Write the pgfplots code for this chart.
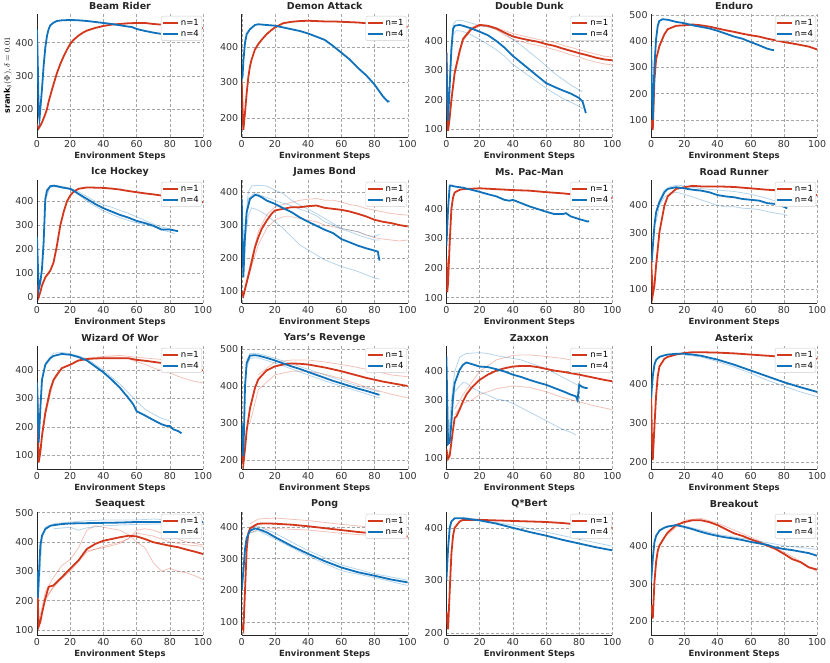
\documentclass[border=0pt]{standalone}
\usepackage{fontspec}
\setmainfont{DejaVu Sans}
\usepackage{pgfplots}
\pgfplotsset{compat=1.18}
\definecolor{cred}{RGB}{211,55,28}
\definecolor{cblue}{RGB}{16,114,186}
\pgfplotsset{
  panel/.style={
    scale only axis, width=166pt, height=123pt, anchor=south west,
    xmin=0, xmax=100, xtick={0,20,40,60,80,100}, ytick distance=100,
    axis x line*=bottom, axis y line*=left,
    axis line style={-, black!85, line width=0.8pt},
    major tick length=0pt,
    grid=major, grid style={densely dashed, black!35, line width=0.4pt},
    tick label style={font=\fontsize{9.5}{10}\selectfont, text=black!80},
    /pgf/number format/assume math mode=true,
    xlabel={Environment Steps},
    xlabel style={font=\bfseries\fontsize{8.5}{9}\selectfont, text=black!85,
      at={(axis description cs:0.5,0)}, anchor=center, yshift=-19pt},
    title style={font=\bfseries\fontsize{9.5}{10}\selectfont, text=black!85,
      at={(axis description cs:0.5,1)}, anchor=center, yshift=2pt},
    legend style={at={(1,1)}, anchor=north east, xshift=-1pt, yshift=-2pt,
      draw=black!20, rounded corners=2pt, fill=white,
      font=\fontsize{8.5}{9}\selectfont, inner sep=1pt, row sep=-1pt},
    legend image code/.code={\draw[##1] (0pt,0pt) -- (15pt,0pt);},
    legend cell align=left,
  },
  mean1/.style={cred, line width=1.8pt},
  mean4/.style={cblue, line width=1.8pt},
  seed1/.style={cred, line width=0.8pt, opacity=0.3, forget plot},
  seed4/.style={cblue, line width=0.8pt, opacity=0.3, forget plot},
}
\begin{document}
\begin{tikzpicture}
\useasboundingbox (0,0) rectangle (830pt,663pt);

% ---------------- row 1 ----------------
\begin{axis}[panel, at={(37pt,526pt)}, title={Beam Rider}, ymin=116, ymax=486,
  ylabel={\textbf{srank}$_\delta(\Phi), \delta=0.01$},
  ylabel style={font=\fontsize{8}{9}\selectfont, at={(axis description cs:-0.175,0.5)}, anchor=center}]
\addplot[mean1] coordinates {(0,155)(1,142)(2,150)(3,160)(4,172)(5,185)(6,200)(7,222)(8,240)(9,258)(10,275)(12,308)(14,335)(16,358)(18,378)(20,396)(22,408)(25,421)(28,431)(30,436)(35,444)(40,450)(45,454)(50,456)(55,458)(60,459)(65,459)(70,456)(75,454)(80,451)(85,449)(90,447)(95,446)(100,443)};
\addlegendentry{n=1}
\addplot[mean4] coordinates {(0,440)(0.5,330)(1,190)(1.5,170)(2,200)(3,260)(4,330)(5,385)(6,420)(7,440)(8,452)(10,460)(12,465)(15,467)(20,468)(25,467)(30,465)(35,462)(40,459)(45,456)(50,452)(55,448)(57,447)(60,441)(65,435)(70,430)(75,426)(80,422)(83,419)};
\addlegendentry{n=4}
\end{axis}

\begin{axis}[panel, at={(241.7pt,526pt)}, title={Demon Attack}, ymin=146, ymax=493]
\addplot[mean1] coordinates {(0,300)(0.5,230)(1,166)(2,215)(3,270)(4,315)(5,346)(6,365)(8,393)(10,408)(12,420)(15,436)(18,448)(20,455)(25,467)(30,471)(35,473)(40,474)(45,473)(50,472)(55,472)(60,471)(65,470)(70,469)(75,467)(80,465)(85,463)(90,461)(95,459)(100,457)};
\addlegendentry{n=1}
\addplot[mean4] coordinates {(0,310)(0.5,315)(1,360)(2,412)(3,436)(5,450)(8,462)(10,464)(15,462)(20,460)(25,455)(30,450)(35,445)(40,438)(45,429)(50,420)(55,403)(60,384)(65,365)(70,341)(75,320)(80,294)(85,261)(88,246)(89,247)};
\addlegendentry{n=4}
\end{axis}

\begin{axis}[panel, at={(446.4pt,526pt)}, title={Double Dunk}, ymin=74, ymax=491]
\addplot[seed1] coordinates {(1,95)(5,300)(10,410)(15,445)(20,455)(25,452)(30,445)(35,435)(40,425)(45,418)(50,412)(55,405)(60,400)(65,395)(70,385)(75,378)(80,370)(85,362)(90,355)(95,348)(100,345)};
\addplot[seed1] coordinates {(1,95)(5,285)(10,400)(15,435)(20,450)(25,448)(30,438)(35,420)(40,405)(45,398)(50,390)(55,385)(60,378)(65,370)(70,362)(75,352)(80,345)(85,335)(90,328)(95,322)(100,318)};
\addplot[seed4] coordinates {(2,300)(4,455)(6,470)(10,468)(15,460)(20,452)(25,447)(30,440)(35,425)(40,405)(45,385)(50,362)(55,340)(60,315)(65,290)(70,270)(75,250)(80,233)(82,228)};
\addplot[seed4] coordinates {(2,280)(4,420)(6,435)(10,432)(15,420)(20,405)(25,388)(30,370)(35,348)(40,320)(45,300)(50,280)(55,260)(60,240)(65,222)(70,205)(75,192)(80,178)(82,170)};
\addplot[mean1] coordinates {(0,360)(0.5,200)(1,95)(2,140)(3,200)(5,292)(8,366)(10,406)(15,440)(20,454)(25,451)(30,442)(35,428)(40,415)(45,408)(50,402)(55,397)(60,389)(65,383)(70,374)(75,366)(80,358)(85,351)(90,343)(95,337)(100,334)};
\addlegendentry{n=1}
\addplot[mean4] coordinates {(0,360)(0.5,220)(1,130)(2,250)(3,372)(4,440)(5,451)(8,454)(10,451)(15,442)(20,431)(25,419)(30,400)(35,377)(40,349)(45,326)(50,303)(55,280)(60,257)(65,244)(70,232)(75,221)(80,206)(82,195)(84,155)};
\addlegendentry{n=4}
\end{axis}

\begin{axis}[panel, at={(651.1pt,526pt)}, title={Enduro}, ymin=35, ymax=503]
\addplot[mean1] coordinates {(0,100)(1,62)(2,253)(3,330)(5,381)(8,426)(10,445)(15,458)(20,460)(25,463)(30,460)(35,455)(40,448)(45,441)(50,435)(55,428)(60,422)(65,417)(70,409)(75,403)(80,396)(85,391)(90,385)(95,379)(100,368)};
\addlegendentry{n=1}
\addplot[mean4] coordinates {(0,381)(0.5,200)(1,100)(2,304)(3,407)(4,458)(5,477)(7,483)(10,481)(15,473)(20,468)(25,460)(30,454)(35,448)(40,439)(45,428)(50,417)(55,409)(60,396)(65,384)(70,371)(73,366)(74,366)};
\addlegendentry{n=4}
\end{axis}

% ---------------- row 2 ----------------
\begin{axis}[panel, at={(37pt,360pt)}, title={Ice Hockey}, ymin=-25, ymax=489]
\addplot[seed4] coordinates {(5,400)(8,465)(10,468)(15,462)(20,455)(25,440)(30,420)(35,400)(40,385)(45,375)(50,362)(55,350)(60,335)(65,320)(70,305)(75,292)(80,285)(83,280)};
\addplot[seed4] coordinates {(5,420)(8,460)(12,460)(20,450)(25,428)(30,400)(35,380)(40,360)(45,345)(50,332)(55,320)(60,310)(65,302)(70,295)(75,280)(80,272)(83,265)};
\addplot[mean1] coordinates {(0,50)(1,0)(2,20)(3,48)(5,82)(8,110)(10,145)(12,215)(14,298)(16,354)(18,399)(20,424)(22,440)(25,452)(30,458)(35,457)(40,456)(45,453)(50,449)(55,443)(60,438)(65,433)(70,429)(75,424)(80,418)(85,413)(90,407)(95,403)(100,396)};
\addlegendentry{n=1}
\addplot[mean4] coordinates {(0,250)(1,31)(2,62)(3,117)(4,229)(5,410)(6,445)(8,463)(10,465)(12,463)(15,458)(20,452)(22,445)(25,431)(30,410)(35,389)(40,371)(45,357)(50,343)(55,332)(60,318)(65,309)(70,298)(75,282)(80,282)(85,275)};
\addlegendentry{n=4}
\end{axis}

\begin{axis}[panel, at={(241.7pt,360pt)}, title={James Bond}, ymin=65, ymax=436]
\addplot[seed1] coordinates {(1,90)(5,180)(10,280)(15,330)(20,355)(25,362)(30,368)(35,375)(40,378)(45,380)(50,375)(55,375)(60,370)(65,362)(70,358)(75,350)(80,345)(85,340)(90,335)(95,332)(100,330)};
\addplot[seed1] coordinates {(1,88)(5,160)(10,240)(15,290)(20,315)(25,325)(30,325)(35,320)(40,315)(45,310)(50,300)(55,295)(60,290)(65,285)(70,280)(75,270)(80,262)(85,258)(90,255)(95,252)(100,255)};
\addplot[seed4] coordinates {(2,300)(4,400)(6,418)(10,420)(15,418)(20,405)(25,395)(30,375)(35,360)(40,348)(45,335)(50,320)(55,305)(60,290)(65,285)(70,280)(75,270)(80,265)(83,272)};
\addplot[seed4] coordinates {(2,280)(4,380)(8,398)(12,388)(18,378)(22,370)(28,362)(35,348)(40,340)(45,328)(50,310)(55,300)(60,288)(65,280)(70,270)(75,262)(80,255)(83,255)};
\addplot[seed4] coordinates {(2,250)(4,330)(6,352)(10,345)(15,330)(20,310)(25,290)(30,265)(35,240)(40,225)(45,210)(50,195)(55,185)(60,175)(65,168)(70,160)(75,150)(80,140)(83,137)};
\addplot[mean1] coordinates {(0,100)(1,87)(3,127)(5,167)(8,233)(10,263)(12,288)(15,313)(18,334)(20,344)(25,349)(30,354)(35,354)(40,357)(45,359)(50,352)(55,349)(60,346)(65,341)(70,334)(75,326)(80,316)(85,310)(90,306)(95,300)(100,296)};
\addlegendentry{n=1}
\addplot[mean4] coordinates {(0,379)(1,142)(2,268)(3,339)(5,379)(8,391)(10,389)(12,384)(15,374)(20,364)(25,351)(30,339)(35,323)(40,310)(45,298)(50,286)(55,276)(60,258)(65,248)(70,238)(75,230)(80,223)(82,220)(83,193)};
\addlegendentry{n=4}
\end{axis}

\begin{axis}[panel, at={(446.4pt,360pt)}, title={Ms. Pac-Man}, ymin=82, ymax=497]
\addplot[mean1] coordinates {(0,230)(0.5,118)(1,150)(2,287)(3,399)(4,438)(5,455)(8,464)(10,466)(20,469)(30,466)(40,463)(50,461)(60,456)(70,452)(80,446)(90,442)(100,436)};
\addlegendentry{n=1}
\addplot[mean4] coordinates {(0,275)(1,400)(2,478)(3,478)(5,475)(10,471)(15,464)(20,457)(25,449)(30,442)(35,430)(38,427)(40,430)(45,419)(50,408)(55,399)(60,390)(65,382)(70,382)(72,385)(75,374)(80,365)(85,357)(86,358)};
\addlegendentry{n=4}
\end{axis}

\begin{axis}[panel, at={(651.1pt,360pt)}, title={Road Runner}, ymin=50, ymax=491]
\addplot[seed4] coordinates {(3,340)(5,400)(8,430)(12,445)(15,447)(20,440)(25,430)(30,420)(35,410)(40,400)(45,395)(50,395)(55,390)(60,388)(65,385)(70,378)(75,372)(80,368)(82,363)};
\addplot[seed4] coordinates {(3,380)(5,420)(8,455)(12,468)(16,472)(20,470)(25,465)(30,460)(40,455)(50,450)(60,440)(70,425)(75,415)(80,405)(84,400)};
\addplot[mean1] coordinates {(0,208)(1,79)(2,112)(3,184)(5,303)(8,399)(10,432)(15,459)(20,465)(25,470)(30,468)(40,468)(50,466)(60,461)(70,456)(80,453)(90,447)(100,437)};
\addlegendentry{n=1}
\addplot[mean4] coordinates {(0,220)(0.5,210)(2,327)(3,375)(5,411)(8,447)(10,459)(15,465)(20,461)(25,456)(30,453)(35,447)(40,437)(45,432)(50,429)(55,423)(60,420)(65,417)(70,408)(75,405)(80,395)(82,389)};
\addlegendentry{n=4}
\end{axis}

% ---------------- row 3 ----------------
\begin{axis}[panel, at={(37pt,194pt)}, title={Wizard Of Wor}, ymin=51, ymax=485]
\addplot[seed1] coordinates {(1,75)(5,240)(10,360)(15,405)(20,420)(25,432)(30,438)(35,442)(40,445)(45,446)(50,445)(55,440)(60,430)(65,420)(70,408)(75,398)(80,390)(85,378)(90,368)(95,360)(100,355)};
\addplot[seed1] coordinates {(30,442)(40,448)(50,452)(60,445)(70,440)(80,435)(90,425)(100,415)};
\addplot[seed4] coordinates {(5,425)(10,460)(15,462)(20,458)(25,450)(30,440)(35,420)(40,400)(45,375)(50,350)(55,320)(60,290)(65,262)(70,245)(75,230)(80,220)(82,215)};
\addplot[mean1] coordinates {(0,355)(1,74)(2,109)(3,168)(5,249)(8,331)(10,366)(12,384)(15,407)(20,419)(25,434)(30,439)(35,441)(40,442)(45,442)(50,442)(55,442)(60,436)(65,433)(70,429)(75,425)(80,421)(85,415)(90,410)(95,404)(100,399)};
\addlegendentry{n=1}
\addplot[mean4] coordinates {(0,355)(1,144)(2,261)(3,366)(5,419)(8,442)(10,450)(15,457)(20,454)(25,446)(30,434)(35,413)(40,392)(45,366)(50,337)(55,302)(58,279)(60,255)(65,240)(70,224)(75,209)(78,203)(80,203)(82,191)(85,185)(87,177)};
\addlegendentry{n=4}
\end{axis}

\begin{axis}[panel, at={(241.7pt,194pt)}, title={Yars's Revenge}, ymin=176, ymax=508]
\addplot[seed1] coordinates {(5,300)(10,390)(20,430)(30,440)(40,440)(50,432)(60,420)(70,405)(80,390)(90,378)(100,368)};
\addplot[seed1] coordinates {(10,430)(20,465)(30,470)(40,470)(50,465)(60,458)(70,450)(80,440)(90,430)(100,425)};
\addplot[seed4] coordinates {(3,470)(5,488)(10,487)(20,475)(30,460)(40,445)(50,430)(60,415)(70,400)(80,388)(83,384)};
\addplot[seed4] coordinates {(3,450)(5,475)(10,476)(20,462)(30,446)(40,430)(50,414)(60,400)(70,386)(80,372)(83,368)};
\addplot[mean1] coordinates {(0,220)(1,190)(2,230)(3,280)(5,340)(8,395)(10,418)(15,442)(20,453)(25,458)(30,461)(35,460)(40,458)(45,454)(50,450)(55,445)(60,440)(65,434)(70,428)(75,422)(80,417)(85,412)(90,408)(95,404)(100,400)};
\addlegendentry{n=1}
\addplot[mean4] coordinates {(0,300)(1,210)(2,400)(3,462)(5,482)(8,483)(10,482)(15,476)(20,469)(25,461)(30,453)(35,446)(40,438)(45,430)(50,422)(55,414)(60,407)(65,400)(70,393)(75,387)(80,380)(83,376)};
\addlegendentry{n=4}
\end{axis}

\begin{axis}[panel, at={(446.4pt,194pt)}, title={Zaxxon}, ymin=63, ymax=488]
\addplot[seed1] coordinates {(5,270)(10,320)(20,400)(30,440)(40,455)(45,457)(50,457)(60,452)(70,445)(80,435)(90,425)(100,410)};
\addplot[seed1] coordinates {(5,250)(10,290)(15,300)(20,320)(30,340)(40,350)(50,345)(60,330)(70,310)(80,295)(90,280)(100,268)};
\addplot[seed4] coordinates {(1,150)(3,300)(5,400)(8,450)(12,462)(20,465)(25,462)(30,455)(35,450)(40,445)(45,440)(50,430)(55,420)(60,410)(65,395)(70,380)(75,365)(80,350)(84,340)};
\addplot[seed4] coordinates {(1,150)(3,250)(5,330)(8,350)(10,362)(12,360)(15,345)(20,330)(25,318)(30,305)(35,300)(40,290)(45,275)(50,260)(55,245)(60,230)(65,215)(70,200)(75,190)(78,180)};
\addplot[mean1] coordinates {(0,132)(1,98)(2,109)(3,155)(4,200)(5,240)(6,244)(8,269)(10,297)(12,320)(15,343)(20,371)(25,389)(30,403)(35,411)(40,417)(45,419)(50,419)(55,415)(60,409)(65,403)(70,399)(75,394)(80,389)(85,383)(90,377)(95,371)(100,366)};
\addlegendentry{n=1}
\addplot[mean4] coordinates {(0,451)(1,149)(2,155)(3,223)(4,314)(5,360)(8,406)(10,423)(12,431)(15,426)(20,417)(25,415)(30,408)(35,400)(40,389)(45,381)(50,371)(55,362)(60,354)(65,343)(70,332)(75,320)(78,314)(79,301)(80,354)(82,346)(84,343)(85,343)};
\addlegendentry{n=4}
\end{axis}

\begin{axis}[panel, at={(651.1pt,194pt)}, title={Asterix}, ymin=182, ymax=498, ytick={200,300,400}]
\addplot[seed4] coordinates {(20,475)(30,470)(40,458)(50,444)(60,428)(70,410)(80,395)(90,380)(100,368)};
\addplot[mean1] coordinates {(0,380)(0.5,260)(1,205)(2,290)(3,370)(4,420)(5,445)(8,465)(10,470)(15,476)(20,480)(25,482)(30,482)(40,481)(50,479)(60,476)(70,473)(80,470)(90,468)(100,465)};
\addlegendentry{n=1}
\addplot[mean4] coordinates {(0,365)(1,420)(2,450)(3,462)(5,470)(8,474)(10,476)(15,478)(20,478)(25,476)(30,473)(40,463)(50,450)(60,435)(70,420)(80,405)(90,392)(100,380)};
\addlegendentry{n=4}
\end{axis}

% ---------------- row 4 ----------------
\begin{axis}[panel, at={(37pt,28pt)}, title={Seaquest}, ymin=83, ymax=502]
\addplot[seed1] coordinates {(2,150)(5,230)(10,280)(15,320)(20,340)(25,380)(30,440)(35,455)(40,450)(45,445)(50,440)(55,425)(60,400)(65,380)(70,330)(75,300)(80,310)(85,300)(90,295)(95,285)(100,272)};
\addplot[seed1] coordinates {(5,200)(10,250)(20,300)(30,365)(40,385)(50,400)(55,410)(60,440)(65,445)(70,440)(80,420)(90,400)(100,390)};
\addplot[seed1] coordinates {(5,210)(10,245)(20,310)(30,370)(40,380)(50,395)(60,430)(70,420)(80,400)(90,390)(100,385)};
\addplot[seed4] coordinates {(1,220)(3,410)(5,450)(10,462)(20,468)(30,472)(40,475)(50,475)(60,475)(70,478)(80,475)(90,470)(100,468)};
\addplot[seed4] coordinates {(10,445)(20,450)(25,440)(30,448)(40,455)(60,460)(80,462)(100,460)};
\addplot[mean1] coordinates {(0,300)(1,112)(2,128)(3,157)(5,207)(7,247)(10,252)(12,264)(15,280)(20,309)(25,337)(30,376)(35,393)(40,404)(45,410)(50,416)(55,421)(60,419)(65,410)(70,399)(75,393)(80,387)(85,382)(90,374)(95,367)(100,359)};
\addlegendentry{n=1}
\addplot[mean4] coordinates {(0,300)(0.5,210)(2,387)(3,421)(5,444)(8,455)(10,457)(15,461)(20,463)(30,464)(40,465)(50,466)(60,468)(70,468)(80,468)(90,468)(100,468)};
\addlegendentry{n=4}
\end{axis}

\begin{axis}[panel, at={(241.7pt,28pt)}, title={Pong}, ymin=59, ymax=447]
\addplot[seed1] coordinates {(5,410)(10,425)(20,428)(40,420)(60,408)(80,398)(100,390)};
\addplot[seed1] coordinates {(5,380)(10,392)(20,395)(40,390)(60,380)(80,372)(100,365)};
\addplot[seed4] coordinates {(5,400)(10,402)(20,380)(40,325)(60,280)(80,252)(100,232)};
\addplot[seed4] coordinates {(5,382)(10,388)(20,362)(40,308)(60,262)(80,240)(100,215)};
\addplot[mean1] coordinates {(0,90)(1,75)(2,200)(3,330)(4,380)(5,395)(8,405)(10,410)(15,411)(20,410)(30,407)(40,402)(50,396)(60,390)(70,384)(80,379)(90,374)(100,370)};
\addlegendentry{n=1}
\addplot[mean4] coordinates {(0,200)(1,260)(2,330)(3,365)(5,388)(8,395)(10,393)(15,383)(20,368)(30,340)(40,315)(50,292)(60,272)(70,257)(80,246)(90,234)(100,225)};
\addlegendentry{n=4}
\end{axis}

\begin{axis}[panel, at={(446.4pt,28pt)}, title={Q*Bert}, ymin=196, ymax=430]
\addplot[seed4] coordinates {(10,420)(20,415)(40,405)(60,392)(80,378)(100,365)};
\addplot[mean1] coordinates {(0,240)(1,207)(2,280)(3,350)(4,385)(5,400)(8,412)(10,415)(20,415)(30,414)(40,413)(50,412)(60,411)(70,409)(80,406)(90,403)(100,400)};
\addlegendentry{n=1}
\addplot[mean4] coordinates {(0,300)(1,360)(2,400)(3,412)(5,418)(10,418)(20,414)(30,408)(40,400)(50,392)(60,385)(70,377)(80,370)(90,363)(100,357)};
\addlegendentry{n=4}
\end{axis}

\begin{axis}[panel, at={(651.1pt,28pt)}, title={Breakout}, ymin=163, ymax=492]
\addplot[seed1] coordinates {(10,432)(20,470)(30,475)(40,462)(60,425)(80,385)(90,360)(100,332)};
\addplot[seed4] coordinates {(5,445)(10,455)(20,455)(40,432)(60,418)(80,402)(100,392)};
\addplot[mean1] coordinates {(0,242)(1,207)(2,304)(3,358)(4,388)(5,402)(8,424)(10,437)(15,457)(20,465)(25,470)(30,470)(35,465)(40,457)(45,446)(50,435)(55,428)(60,419)(65,411)(70,402)(75,393)(80,380)(85,366)(90,358)(95,344)(100,338)};
\addlegendentry{n=1}
\addplot[mean4] coordinates {(0,304)(1,366)(2,411)(3,428)(5,442)(8,450)(10,453)(15,457)(20,452)(25,446)(30,439)(35,433)(40,428)(45,424)(50,421)(55,417)(60,412)(65,408)(70,404)(75,397)(80,393)(85,390)(90,386)(95,382)(100,375)};
\addlegendentry{n=4}
\end{axis}

\end{tikzpicture}
\end{document}
